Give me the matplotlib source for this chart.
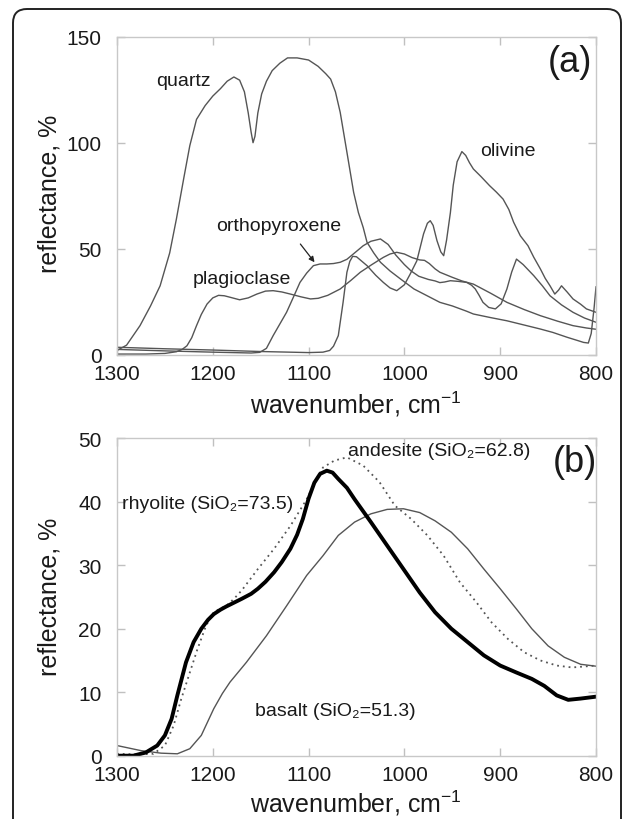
import matplotlib
matplotlib.use("Agg")
import matplotlib.pyplot as plt
from matplotlib.patches import FancyBboxPatch

plt.rcParams['font.family'] = ['Liberation Sans', 'DejaVu Sans']
plt.rcParams['mathtext.default'] = 'regular'

# ---------------- panel (a) data ----------------
quartz_wn = [1300, 1290, 1276, 1265, 1255, 1245, 1238, 1230, 1224, 1217, 1208, 1200, 1192, 1185,
             1178, 1172, 1167, 1163, 1160, 1158, 1156, 1153, 1149, 1144, 1138, 1130, 1122, 1112,
             1100, 1090, 1082, 1077, 1072, 1067, 1060, 1053, 1048, 1043, 1039, 1032, 1025, 1015,
             1004, 990, 975, 963, 950, 935, 928, 910, 893, 875, 858, 845, 830, 820, 813, 808,
             805, 802, 800]
quartz_r = [2.0, 4.5, 13.7, 23.0, 32.5, 48.0, 64.0, 84.0, 98.6, 111.0, 117.5, 122.0, 125.5, 129.0,
            131.0, 129.5, 124.0, 114.0, 105.0, 100.0, 103.0, 114.0, 123.0, 129.0, 134.0, 137.5, 140.0, 140.0,
            139.0, 136.0, 132.5, 130.0, 124.0, 114.3, 95.5, 76.6, 67.0, 60.0, 53.0, 48.0, 43.6, 39.5,
            35.7, 31.0, 27.5, 24.7, 23.0, 20.5, 19.2, 17.5, 16.0, 14.0, 12.1, 10.5, 8.2, 6.8, 5.8, 5.5,
            10.0, 22.0, 32.0]

plag_wn = [1300, 1270, 1250, 1238, 1232, 1227, 1222, 1217, 1212, 1206, 1200, 1194, 1188, 1182,
           1172, 1163, 1154, 1145, 1137, 1128, 1119, 1108, 1098, 1090, 1080, 1067, 1056, 1046,
           1034, 1022, 1015, 1008, 1000, 992, 984, 979, 974, 968, 963, 950, 940, 928, 910, 893,
           875, 858, 840, 824, 810, 800]
plag_r = [0.3, 0.3, 0.6, 1.4, 2.5, 4.2, 8.0, 13.7, 19.0, 23.9, 26.8, 28.0, 27.8, 27.1,
          25.9, 26.8, 28.6, 30.0, 30.2, 29.6, 28.6, 27.3, 26.3, 26.6, 28.0, 31.0, 35.0, 38.9,
          42.5, 45.9, 47.5, 48.3, 47.5, 45.8, 44.7, 44.5, 43.0, 40.5, 38.9, 36.5, 34.8, 33.3, 29.0, 24.7,
          21.3, 18.4, 15.8, 13.7, 12.6, 12.0]

opx_wn = [1300, 1250, 1200, 1160, 1151, 1144, 1137, 1130, 1123, 1116, 1109, 1102, 1095, 1088,
          1081, 1074, 1067, 1060, 1052, 1043, 1035, 1025, 1017, 1009, 1000, 993, 985, 975, 968,
          963, 958, 952, 944, 935, 930, 926, 922, 918, 912, 905, 899, 893, 888, 883, 876, 865,
          856, 848, 836, 824, 812, 800]
opx_r = [2.5, 1.8, 1.2, 0.8, 1.1, 3.0, 9.0, 14.5, 20.0, 27.0, 34.1, 38.5, 42.0, 42.8,
         42.8, 43.0, 43.6, 45.0, 48.0, 51.4, 53.5, 54.6, 52.0, 47.0, 42.5, 39.5, 37.0, 35.5, 34.8,
         34.0, 34.3, 34.9, 34.6, 34.1, 32.8, 31.0, 28.0, 24.7, 22.3, 21.6, 24.0, 31.0, 39.0, 45.1, 42.5, 37.3,
         32.5, 27.8, 23.5, 20.0, 17.3, 15.3]

oliv_wn = [1300, 1250, 1200, 1150, 1100, 1085, 1078, 1074, 1069, 1064, 1060, 1057, 1054, 1050,
           1039, 1030, 1022, 1015, 1008, 1000, 994, 987, 980, 976, 973, 970, 966, 962, 959, 956,
           952, 949, 945, 940, 936, 932, 928, 920, 911, 904, 897, 891, 886, 879, 871, 865, 858,
           853, 848, 843, 839, 836, 830, 824, 816, 810, 800]
oliv_r = [3.5, 2.8, 2.2, 1.5, 1.0, 1.2, 2.0, 4.0, 9.0, 24.7, 38.9, 44.0, 46.4, 46.2,
          42.0, 37.5, 34.1, 31.5, 30.2, 33.0, 38.0, 44.3, 57.0, 62.0, 63.2, 61.0, 53.8, 48.5, 46.7, 54.0,
          67.0, 80.0, 91.0, 95.8, 94.0, 90.5, 87.6, 84.0, 79.7, 76.7, 73.4, 68.5, 62.5, 56.1, 51.4, 46.0, 40.4,
          36.0, 32.5, 28.6, 30.5, 32.5, 29.5, 26.3, 23.8, 21.6, 20.0]

# ---------------- panel (b) data ----------------
rhy_wn = [1300, 1283, 1270, 1258, 1250, 1243, 1237, 1228, 1220, 1212, 1205, 1199, 1192, 1186,
          1178, 1170, 1160, 1153, 1145, 1136, 1128, 1119, 1112, 1106, 1100, 1094, 1088, 1081,
          1075, 1069, 1060, 1052, 1035, 1018, 1001, 984, 968, 951, 934, 917, 900, 883, 867,
          854, 841, 829, 816, 800]
rhy_r = [0.0, 0.0, 0.5, 1.6, 3.2, 5.8, 9.5, 14.7, 17.9, 20.0, 21.4, 22.3, 23.0, 23.5,
         24.1, 24.7, 25.5, 26.3, 27.4, 28.9, 30.5, 32.6, 34.8, 37.3, 40.5, 43.0, 44.4, 44.9,
         44.6, 43.6, 42.2, 40.4, 36.8, 33.1, 29.4, 25.7, 22.6, 20.0, 17.9, 15.8, 14.2, 13.1, 12.1,
         11.0, 9.5, 8.8, 9.0, 9.3]

and_wn = [1300, 1280, 1262, 1250, 1241, 1233, 1224, 1216, 1207, 1199, 1192, 1186, 1178, 1170,
          1153, 1136, 1119, 1102, 1092, 1085, 1073, 1060, 1043, 1026, 1010, 993, 976, 959, 942,
          925, 909, 892, 875, 858, 841, 825, 800]
and_r = [0.3, 0.2, 0.3, 1.6, 4.7, 8.9, 13.1, 16.8, 20.5, 22.6, 23.2, 23.6, 24.7, 26.0,
         29.4, 32.6, 36.2, 40.4, 43.5, 45.4, 46.5, 47.0, 45.7, 43.1, 39.4, 37.3, 34.7, 31.5, 27.3,
         24.2, 21.0, 18.4, 16.3, 15.0, 14.2, 13.9, 14.2]

bas_wn = [1300, 1275, 1254, 1237, 1224, 1212, 1199, 1190, 1182, 1165, 1144, 1123, 1102, 1085,
          1069, 1052, 1035, 1018, 1001, 984, 968, 951, 934, 917, 900, 883, 867, 850, 833, 816, 800]
bas_r = [1.6, 0.8, 0.4, 0.3, 1.1, 3.2, 7.4, 9.8, 11.6, 14.7, 18.9, 23.6, 28.4, 31.5,
         34.7, 36.8, 38.1, 38.8, 38.9, 38.3, 37.0, 35.2, 32.6, 29.4, 26.3, 23.1, 20.0, 17.3, 15.5,
         14.4, 14.1]

yticks_a = [0, 50, 100, 150]
yticks_b = [0, 10, 20, 30, 40, 50]
xticks = [1300, 1200, 1100, 1000, 900, 800]

W, H = 632, 820
fig = plt.figure(figsize=(W / 100, H / 100), dpi=100)

# background frame with rounded corners
bg = fig.add_axes([0, 0, 1, 1], zorder=-10)
bg.set_xlim(0, W)
bg.set_ylim(H, 0)
bg.axis('off')
bg.add_patch(FancyBboxPatch((13, 10), 608, 900, boxstyle="round,pad=0,rounding_size=14",
                            fc='white', ec='#222222', lw=1.4))


def px_axes(left, top, right, bottom):
    return fig.add_axes([left / W, 1 - bottom / H, (right - left) / W, (bottom - top) / H])


def style(ax, yticks, ymax):
    ax.set_facecolor('none')
    ax.set_xlim(1300, 800)
    ax.set_ylim(0, ymax)
    ax.set_xticks(xticks)
    ax.set_yticks(yticks)
    for s in ax.spines.values():
        s.set_color('#c8c8c8')
        s.set_linewidth(1.0)
    ax.tick_params(direction='in', length=6, width=1.0, color='#c0c0c0',
                   top=True, right=True, labelsize=15, labelcolor='#1a1a1a')
    ax.tick_params(axis='x', pad=7)
    ax.tick_params(axis='y', pad=11)


line_c = '#555555'

# ---------------- panel (a) ----------------
axa = px_axes(117, 37.7, 596, 355.7)
style(axa, yticks_a, 150)
for wn, r in [(quartz_wn, quartz_r), (plag_wn, plag_r), (opx_wn, opx_r), (oliv_wn, oliv_r)]:
    axa.plot(wn, r, color=line_c, lw=1.0, solid_joinstyle='round')

tk = dict(fontsize=14, color='#1a1a1a', ha='center', va='center')
axa.text(1230.5, 129.2, 'quartz', **tk)
axa.text(892, 96.1, 'olivine', **tk)
axa.text(1131, 60.8, 'orthopyroxene', **tk)
axa.text(1169.5, 36.0, 'plagioclase', **tk)
axa.text(827, 138.5, '(a)', fontsize=26, color='#1a1a1a', ha='center', va='center')
axa.annotate('', xy=(1093.8, 43.6), xytext=(1108.6, 52.2),
             arrowprops=dict(arrowstyle='-|>', color='#222222', lw=0.9,
                             mutation_scale=8, shrinkA=0, shrinkB=0))

# ---------------- panel (b) ----------------
axb = px_axes(117, 439.3, 596, 756.7)
style(axb, yticks_b, 50)
axb.plot(bas_wn, bas_r, color=line_c, lw=1.0)
axb.plot(and_wn, and_r, color=line_c, lw=1.3, linestyle=(0, (1, 2.2)))
axb.plot(rhy_wn, rhy_r, color='black', lw=2.8, solid_capstyle='round', solid_joinstyle='round')

axb.text(964, 48.0, 'andesite (SiO₂=62.8)', **tk)
axb.text(1205, 39.7, 'rhyolite (SiO₂=73.5)', **tk)
axb.text(1072, 7.1, 'basalt (SiO₂=51.3)', **tk)
axb.text(822.5, 46.3, '(b)', fontsize=26, color='#1a1a1a', ha='center', va='center')

# axis labels
lab = dict(fontsize=18, color='#1a1a1a', ha='center', va='center')
fig.text(356 / W, 1 - 404 / H, 'wavenumber, cm$^{-1}$', **lab)
fig.text(356 / W, 1 - 803 / H, 'wavenumber, cm$^{-1}$', **lab)
fig.text(50 / W, 1 - 194 / H, 'reflectance, %', rotation=90, **lab)
fig.text(50 / W, 1 - 597 / H, 'reflectance, %', rotation=90, **lab)

fig.savefig('out.png', dpi=100)
